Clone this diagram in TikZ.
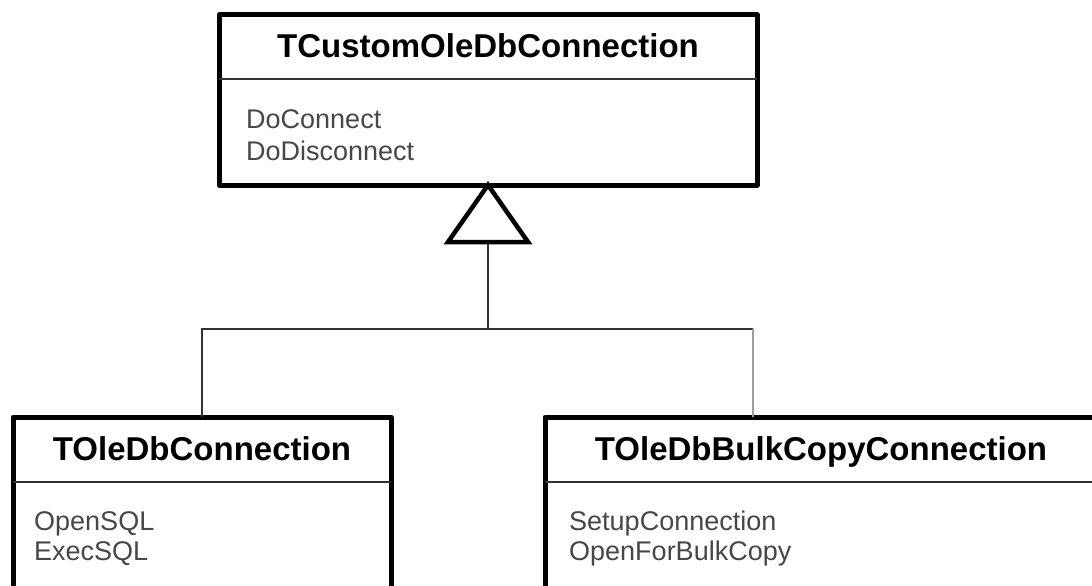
\documentclass[tikz,border=0pt]{standalone}
\usepackage{fontspec}
\setmainfont{Liberation Sans}
\begin{document}
\begin{tikzpicture}[x=1pt,y=-1pt,
  classbox/.style={draw=black, line width=5pt, fill=white, line join=round, anchor=north west, inner sep=0pt, outer sep=0pt},
  divider/.style={draw=black!80, line width=1.8pt},
  title/.style={anchor=base, inner sep=0pt, font=\fontsize{33}{40}\selectfont\bfseries, text=black},
  member/.style={anchor=base west, inner sep=0pt, font=\fontsize{27}{32}\selectfont, text=black!72},
  conn/.style={draw=black!80, line width=1.6pt},
  connlight/.style={draw=black!38, line width=1.6pt},
  inherit/.style={draw=black, line width=4.5pt, fill=white, line join=miter}]
\useasboundingbox (0,0) rectangle (1092,586);
\clip (0,0) rectangle (1092,586);
\fill[white] (0,0) rectangle (1092,586);

% top class
\node[classbox, minimum width=538pt, minimum height=170pt] (top) at (219,15) {};
\draw[divider] (219,79) -- (757,79);
\node[title] (toptitle) at (488,58) {TCustomOleDbConnection};
\node[member] (m1) at (246,128) {DoConnect};
\node[member] (m2) at (246,160) {DoDisconnect};

% left class
\node[classbox, minimum width=378pt, minimum height=175pt] (left) at (13,417) {};
\draw[divider] (13,482) -- (391,482);
\node[title] (lefttitle) at (202,460) {TOleDbConnection};
\node[member] (l1) at (34,530) {OpenSQL};
\node[member] (l2) at (34,560) {ExecSQL};

% right class
\node[classbox, minimum width=555pt, minimum height=175pt] (right) at (545,417) {};
\draw[divider] (545,482) -- (1100,482);
\node[title] (righttitle) at (821,460) {TOleDbBulkCopyConnection};
\node[member] (r1) at (569,530) {SetupConnection};
\node[member] (r2) at (569,560) {OpenForBulkCopy};

% connectors
\coordinate (base) at (488,242);
\coordinate (junction) at (488,329);
\coordinate (rcorner) at (753,329);
\draw[conn] (base) -- (junction) -| (left.north);
\draw[conn] (junction) -- (rcorner);
\draw[connlight] (rcorner) -- (rcorner |- right.north);

% generalization triangle
\draw[inherit] (top.south -| base) -- (448,242) -- (528,242) -- cycle;
\end{tikzpicture}
\end{document}
